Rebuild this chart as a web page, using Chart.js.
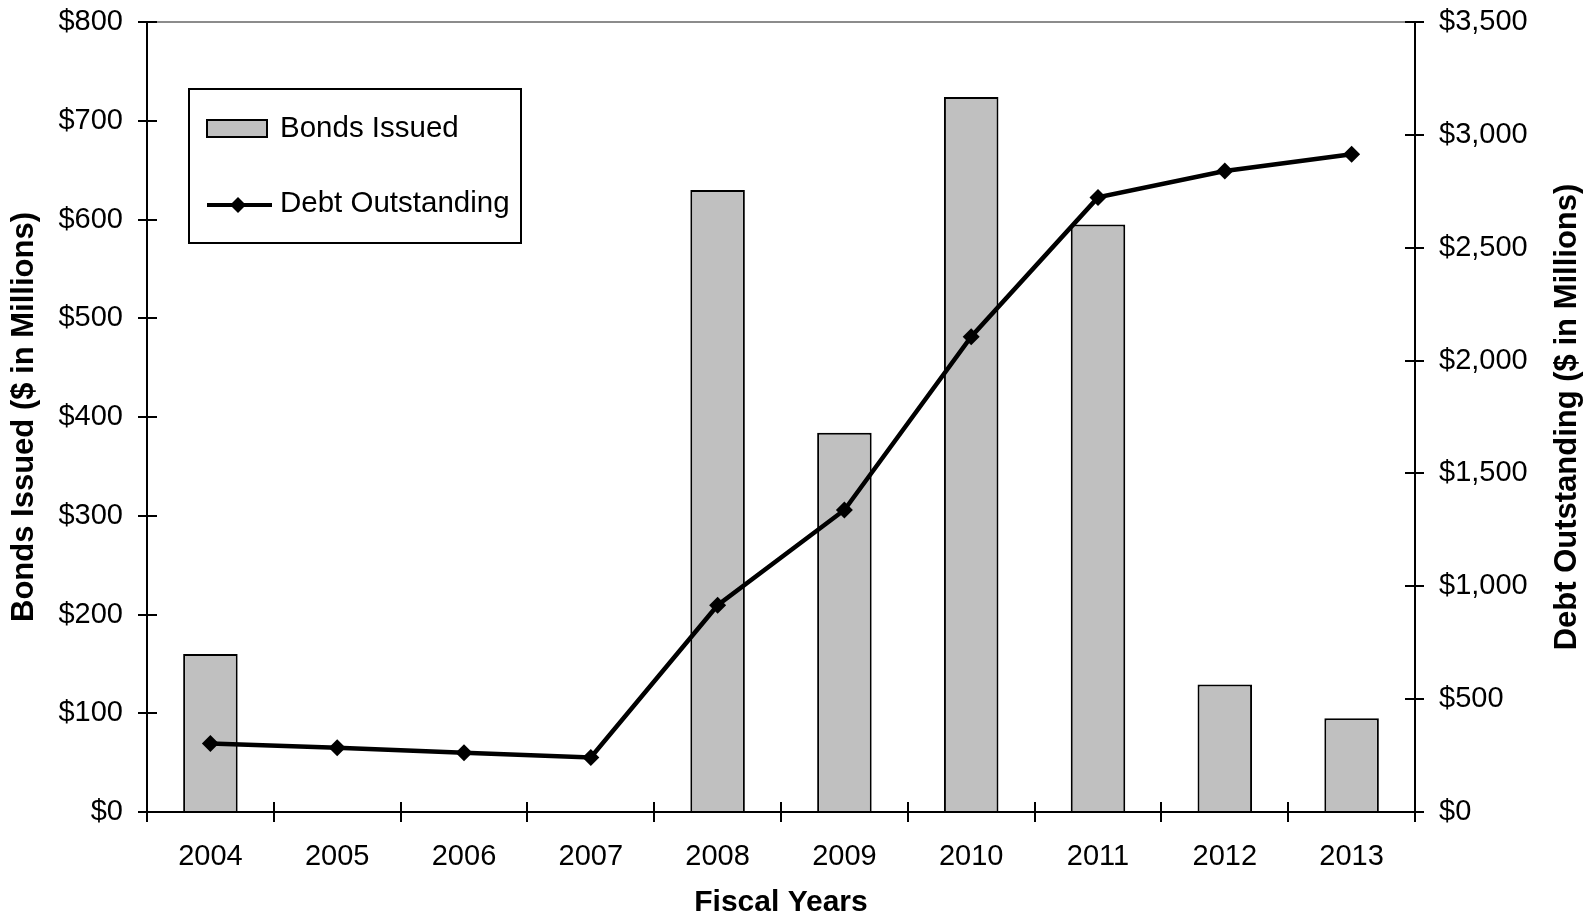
<!DOCTYPE html>
<html>
<head>
<meta charset="utf-8"/>
<style>
  body { margin: 0; padding: 0; background: #fff; }
  #wrap { width: 1590px; height: 921px; }
</style>
</head>
<body>
<div id="wrap"><canvas id="chart" width="1590" height="921"></canvas></div>
<script src="https://cdn.jsdelivr.net/npm/chart.js@4/dist/chart.umd.min.js"></script>
<script>
var years = ['2004', '2005', '2006', '2007', '2008', '2009', '2010', '2011', '2012', '2013'];
var bondsIssued = [160, null, null, null, 630, 384, 724, 595, 129, 95];
var debtOutstanding = [304, 285, 263, 242, 916, 1338, 2106, 2723, 2840, 2914];
var leftTicks = [0, 100, 200, 300, 400, 500, 600, 700, 800];
var rightTicks = [0, 500, 1000, 1500, 2000, 2500, 3000, 3500];

var FONT = '"Liberation Sans", Arial, sans-serif';

// gray frame line on top, inner halves of the cross ticks, right title, legend
var decor = {
  id: 'decor',
  beforeDatasetsDraw: function(chart) {
    var ctx = chart.ctx, a = chart.chartArea;
    ctx.save();
    ctx.strokeStyle = '#8c8c8c';
    ctx.lineWidth = 2;
    ctx.beginPath();
    ctx.moveTo(a.left, a.top);
    ctx.lineTo(a.right, a.top);
    ctx.stroke();
    ctx.restore();
  },
  afterDraw: function(chart) {
    var ctx = chart.ctx, a = chart.chartArea;
    var sx = chart.scales.x, sy = chart.scales.y, sy2 = chart.scales.y2;
    ctx.save();
    ctx.strokeStyle = '#000';
    ctx.lineWidth = 2;
    ctx.beginPath();
    sy.ticks.forEach(function(t) {
      var y = Math.round(sy.getPixelForValue(t.value));
      ctx.moveTo(a.left, y); ctx.lineTo(a.left + 10, y);
    });
    sy2.ticks.forEach(function(t) {
      var y = Math.round(sy2.getPixelForValue(t.value));
      ctx.moveTo(a.right, y); ctx.lineTo(a.right - 10, y);
    });
    for (var i = 0; i <= years.length; i++) {
      var x = Math.round(sx.getPixelForValue(i - 0.5));
      ctx.moveTo(x, a.bottom); ctx.lineTo(x, a.bottom - 10);
    }
    ctx.stroke();

    // right axis title, reading bottom to top
    ctx.fillStyle = '#000';
    ctx.font = 'bold 31px ' + FONT;
    ctx.textAlign = 'center';
    ctx.textBaseline = 'middle';
    ctx.translate(1567, (a.top + a.bottom) / 2);
    ctx.rotate(-Math.PI / 2);
    ctx.fillText('Debt Outstanding ($ in Millions)', 0, 0);
    ctx.setTransform(1, 0, 0, 1, 0, 0);

    // legend
    ctx.fillStyle = '#fff';
    ctx.fillRect(189, 89, 332, 154);
    ctx.strokeRect(189, 89, 332, 154);
    ctx.fillStyle = '#c0c0c0';
    ctx.fillRect(207, 120, 60, 17);
    ctx.strokeRect(207, 120, 60, 17);
    ctx.lineWidth = 4;
    ctx.beginPath();
    ctx.moveTo(207, 205); ctx.lineTo(272, 205);
    ctx.stroke();
    ctx.fillStyle = '#000';
    ctx.beginPath();
    ctx.moveTo(238, 197); ctx.lineTo(246, 205); ctx.lineTo(238, 213); ctx.lineTo(230, 205);
    ctx.closePath();
    ctx.fill();
    ctx.font = '29.5px ' + FONT;
    ctx.textAlign = 'left';
    ctx.textBaseline = 'middle';
    ctx.fillText('Bonds Issued', 280, 129);
    ctx.fillText('Debt Outstanding', 280, 204);
    ctx.restore();
  }
};

var axisGrid = {
  drawOnChartArea: false,
  drawTicks: true,
  tickLength: 9,
  lineWidth: 2,
  color: '#000'
};

function fixY(width) {
  return function(s) {
    s.width = width;
    s.paddingTop = 0;
    s.paddingBottom = 0;
  };
}

new Chart(document.getElementById('chart'), {
  data: {
    labels: years,
    datasets: [{
      type: 'line',
      label: 'Debt Outstanding',
      data: debtOutstanding,
      yAxisID: 'y2',
      order: 0,
      borderColor: '#000',
      backgroundColor: '#000',
      borderWidth: 4.5,
      pointStyle: 'rectRot',
      pointRadius: 8.5,
      pointBorderWidth: 0,
      tension: 0
    }, {
      type: 'bar',
      label: 'Bonds Issued',
      data: bondsIssued,
      yAxisID: 'y',
      order: 1,
      backgroundColor: '#c0c0c0',
      borderColor: '#000',
      borderWidth: 2,
      categoryPercentage: 1,
      barPercentage: 0.43
    }]
  },
  options: {
    responsive: false,
    animation: false,
    devicePixelRatio: 1,
    layout: { padding: { top: 22, left: 0, right: 0, bottom: 0 } },
    plugins: {
      legend: { display: false },
      tooltip: { enabled: false }
    },
    scales: {
      x: {
        grid: { offset: true, drawOnChartArea: false, tickLength: 10, lineWidth: 2, color: '#000' },
        border: { display: true, color: '#000', width: 2 },
        ticks: { color: '#000', font: { family: FONT, size: 29 }, padding: 18, maxRotation: 0 },
        title: { display: true, text: 'Fiscal Years', color: '#000',
                 font: { family: FONT, size: 30, weight: 'bold' }, padding: { top: 0, bottom: 0 } },
        afterFit: function(s) { s.height = 109; s.paddingLeft = 0; s.paddingRight = 0; }
      },
      y: {
        position: 'left',
        min: 0, max: 800,
        afterBuildTicks: function(s) { s.ticks = leftTicks.map(function(v) { return { value: v }; }); },
        grid: axisGrid,
        border: { display: true, color: '#000', width: 2 },
        ticks: { color: '#000', font: { family: FONT, size: 29 }, padding: 15,
                 callback: function(v) { return '$' + v; } },
        title: { display: true, text: 'Bonds Issued ($ in Millions)', color: '#000',
                 font: { family: FONT, size: 31, weight: 'bold' }, padding: { top: 6, bottom: 0 } },
        afterFit: fixY(147)
      },
      y2: {
        position: 'right',
        min: 0, max: 3500,
        afterBuildTicks: function(s) { s.ticks = rightTicks.map(function(v) { return { value: v }; }); },
        grid: axisGrid,
        border: { display: true, color: '#000', width: 2 },
        ticks: { color: '#000', font: { family: FONT, size: 29 }, padding: 15,
                 callback: function(v) { return '$' + v.toLocaleString('en-US'); } },
        afterFit: fixY(175)
      }
    }
  },
  plugins: [decor]
});
</script>
</body>
</html>
